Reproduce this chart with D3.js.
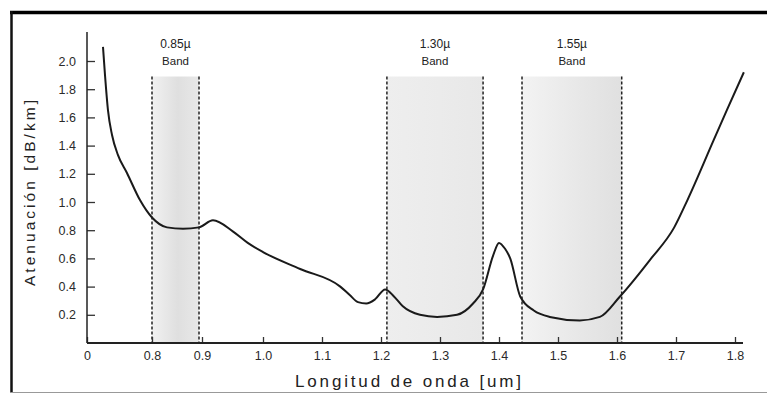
<!DOCTYPE html>
<html>
<head>
<meta charset="utf-8">
<script src="https://cdn.jsdelivr.net/npm/d3@7"></script>
<style>
    body { margin: 0; background: #fff; }
    text { font-family: "Liberation Sans", Arial, sans-serif; }
</style>
</head>
<body>
<div id="chart"></div>
<script>
// wavelength (um) and attenuation (dB/km)
const wavelength = [0.7246, 0.7277, 0.7323, 0.7385, 0.7477, 0.7615, 0.7815, 0.80, 0.83, 0.862, 0.894,
    0.918, 0.951, 0.975, 1.0, 1.063, 1.131, 1.147, 1.161, 1.175, 1.190, 1.207, 1.222, 1.237, 1.266,
    1.295, 1.329, 1.356, 1.373, 1.390, 1.400, 1.410, 1.419, 1.436, 1.459, 1.486, 1.537, 1.571, 1.605,
    1.656, 1.697, 1.719, 1.764, 1.786, 1.815];
const attenuation = [2.10, 1.90, 1.65, 1.475, 1.333, 1.206, 1.014, 0.89, 0.82, 0.81, 0.82,
    0.87, 0.79, 0.71, 0.645, 0.525, 0.40, 0.34, 0.29, 0.28, 0.31, 0.38, 0.33, 0.26, 0.20,
    0.185, 0.20, 0.28, 0.38, 0.62, 0.71, 0.67, 0.60, 0.33, 0.23, 0.185, 0.16, 0.185, 0.33,
    0.59, 0.82, 1.01, 1.44, 1.65, 1.92];

const bandLabels = ["0.85\u00b5", "1.30\u00b5", "1.55\u00b5"];
const bandStart = [0.80, 1.21, 1.439];
const bandEnd = [0.894, 1.373, 1.608];
const bandTop = 1.89;

const xTicks = [0.7, 0.8, 0.9, 1.0, 1.1, 1.2, 1.3, 1.4, 1.5, 1.6, 1.7, 1.8];
const xTickLabels = ["0", "0.8", "0.9", "1.0", "1.1", "1.2", "1.3", "1.4", "1.5", "1.6", "1.7", "1.8"];
const yTicks = [0.2, 0.4, 0.6, 0.8, 1.0, 1.2, 1.4, 1.6, 1.8, 2.0];

const width = 767, height = 396;

const svg = d3.select("#chart").append("svg")
    .attr("width", width)
    .attr("height", height);

// frame of the scanned figure
svg.append("line").attr("x1", 10).attr("x2", width).attr("y1", 12.5).attr("y2", 12.5)
    .attr("stroke", "#000").attr("stroke-width", 3.5);
svg.append("line").attr("x1", 11.5).attr("x2", 11.5).attr("y1", 11).attr("y2", 393)
    .attr("stroke", "#111").attr("stroke-width", 2.5);
svg.append("line").attr("x1", 10).attr("x2", width).attr("y1", 392.5).attr("y2", 392.5)
    .attr("stroke", "#999").attr("stroke-width", 1);

// broken x axis: the origin is labelled 0, the rest is uneven like the scan
const x = d3.scaleLinear()
    .domain([0.7, 0.8, 0.9, 1.0, 1.8])
    .range([87, 152, 202, 263, 735]);
const y = d3.scaleLinear()
    .domain([0, 2])
    .range([343, 61]);

const defs = svg.append("defs");
const shades = [
    ["#f1f1f1", "#dfdfdf", "#e8e8e8"],
    ["#eeeeee", "#ebebeb", "#e8e8e8"],
    ["#f3f3f3", "#e8e8e8", "#e0e0e0"]
];
shades.forEach((s, i) => {
    const g = defs.append("linearGradient").attr("id", "band" + i);
    g.append("stop").attr("offset", "0%").attr("stop-color", s[0]);
    g.append("stop").attr("offset", "55%").attr("stop-color", s[1]);
    g.append("stop").attr("offset", "100%").attr("stop-color", s[2]);
});

const bands = svg.append("g").selectAll("g")
    .data(bandLabels)
    .enter().append("g");

bands.append("rect")
    .attr("x", (d, i) => x(bandStart[i]))
    .attr("y", y(bandTop))
    .attr("width", (d, i) => x(bandEnd[i]) - x(bandStart[i]))
    .attr("height", y(0) - y(bandTop))
    .attr("fill", (d, i) => `url(#band${i})`);

bands.each(function (d, i) {
    const g = d3.select(this);
    [bandStart[i], bandEnd[i]].forEach(v => {
        g.append("line")
            .attr("x1", x(v)).attr("x2", x(v))
            .attr("y1", y(bandTop)).attr("y2", y(0))
            .attr("stroke", "#222")
            .attr("stroke-width", 1.5)
            .attr("stroke-dasharray", "3,2");
    });
});

bands.append("text")
    .attr("x", (d, i) => (x(bandStart[i]) + x(bandEnd[i])) / 2)
    .attr("y", 48)
    .attr("text-anchor", "middle")
    .attr("font-size", 12)
    .attr("fill", "#222")
    .text(d => d);

bands.append("text")
    .attr("x", (d, i) => (x(bandStart[i]) + x(bandEnd[i])) / 2)
    .attr("y", 65)
    .attr("text-anchor", "middle")
    .attr("font-size", 11.5)
    .attr("fill", "#222")
    .text("Band");

// axes
const xAxis = svg.append("g")
    .attr("transform", `translate(0,${y(0)})`)
    .call(d3.axisBottom(x)
        .tickValues(xTicks)
        .tickFormat((d, i) => xTickLabels[i])
        .tickSizeInner(-6)
        .tickSizeOuter(0)
        .tickPadding(8));
xAxis.select(".domain").remove();
xAxis.append("line")
    .attr("x1", x(0.7)).attr("x2", 743)
    .attr("stroke", "#222").attr("stroke-width", 2);

const yAxis = svg.append("g")
    .attr("transform", `translate(${x(0.7)},0)`)
    .call(d3.axisLeft(y)
        .tickValues(yTicks)
        .tickFormat(d3.format(".1f"))
        .tickSizeInner(-8)
        .tickSizeOuter(0)
        .tickPadding(11));
yAxis.select(".domain").remove();
yAxis.append("line")
    .attr("y1", y(0)).attr("y2", y(2.205))
    .attr("stroke", "#222").attr("stroke-width", 1.5);

svg.selectAll(".tick line").attr("stroke", "#333").attr("stroke-width", 1.3);
svg.selectAll(".tick text")
    .attr("font-size", 12.5)
    .attr("fill", "#2a2a2a")
    .style("font-family", "'Liberation Sans', Arial, sans-serif");

// the attenuation curve
const line = d3.line()
    .x((d, i) => x(wavelength[i]))
    .y(d => y(d))
    .curve(d3.curveMonotoneX);

svg.append("path")
    .datum(attenuation)
    .attr("d", line)
    .attr("fill", "none")
    .attr("stroke", "#1a1a1a")
    .attr("stroke-width", 2);

// axis titles
svg.append("text")
    .attr("x", 408)
    .attr("y", 387)
    .attr("text-anchor", "middle")
    .attr("font-size", 17)
    .attr("fill", "#222")
    .attr("textLength", 226)
    .attr("lengthAdjust", "spacing")
    .text("Longitud de onda [um]");

svg.append("text")
    .attr("transform", "translate(35,193) rotate(-90)")
    .attr("text-anchor", "middle")
    .attr("font-size", 15.5)
    .attr("fill", "#222")
    .attr("textLength", 186)
    .attr("lengthAdjust", "spacing")
    .text("Atenuación [dB/km]");
</script>
</body>
</html>
